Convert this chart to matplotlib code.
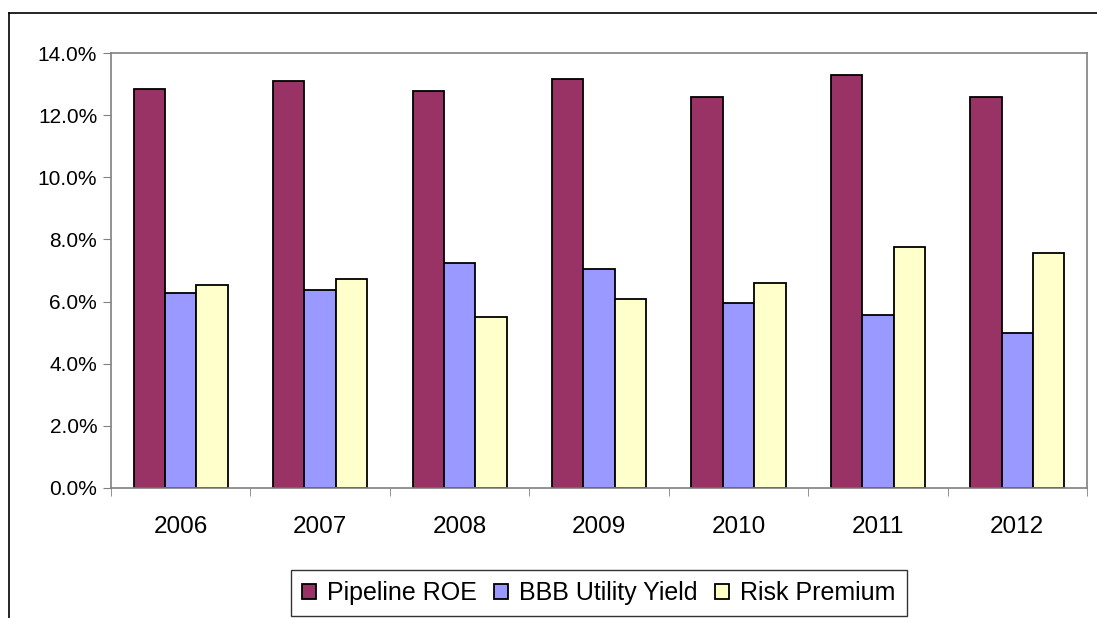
import numpy as np
import matplotlib.pyplot as plt
from matplotlib.lines import Line2D
from matplotlib.ticker import FuncFormatter

plt.rcParams['font.family'] = ['Liberation Sans', 'DejaVu Sans']

years = ['2006', '2007', '2008', '2009', '2010', '2011', '2012']
pipeline_roe = [12.83, 13.10, 12.78, 13.16, 12.58, 13.29, 12.58]
bbb_yield = [6.28, 6.36, 7.25, 7.05, 5.95, 5.57, 5.00]
risk_premium = [6.53, 6.73, 5.50, 6.09, 6.61, 7.76, 7.56]

series = [('Pipeline ROE', pipeline_roe, '#993366'),
          ('BBB Utility Yield', bbb_yield, '#9999FF'),
          ('Risk Premium', risk_premium, '#FFFFCC')]

fig = plt.figure(figsize=(10.97, 6.18), dpi=100)
ax = fig.add_axes([0.1012, 0.2104, 0.8897, 0.7038])

x = np.arange(len(years))
w = 0.225
for i, (name, vals, col) in enumerate(series):
    ax.bar(x + (i - 1) * w, vals, w, color=col, edgecolor='black', linewidth=1.3, label=name)

ax.set_xlim(-0.5, len(years) - 0.5)
ax.set_ylim(0, 14)
ax.set_yticks(np.arange(0, 14.1, 2))
ax.yaxis.set_major_formatter(FuncFormatter(lambda v, p: f'{v:.1f}%'))
ax.set_xticks(x)
ax.set_xticklabels(years)
ax.set_xticks(np.arange(-0.5, len(years)), minor=True)
ax.tick_params(axis='x', which='major', length=0, pad=20, labelsize=17.5)
ax.tick_params(axis='x', which='minor', length=6, direction='out', color='#808080')
ax.tick_params(axis='y', length=6, direction='out', color='#808080', labelsize=15, pad=4)
for s in ax.spines.values():
    s.set_color('#808080')
    s.set_linewidth(1.2)

ax.legend(loc='center', bbox_to_anchor=(0.546, 0.0405), bbox_transform=fig.transFigure,
          ncol=3, fontsize=18, frameon=True, fancybox=False, edgecolor='black',
          handlelength=0.55, handleheight=0.55, handletextpad=0.45, columnspacing=0.7,
          borderpad=0.45, borderaxespad=0)

# outer chart border (only left and top edges are in view)
fig.add_artist(Line2D([9 / 1097, 9 / 1097], [0, 1 - 13 / 618], color='black', lw=1.2))
fig.add_artist(Line2D([9 / 1097, 1], [1 - 13 / 618, 1 - 13 / 618], color='black', lw=1.2))

fig.savefig('out.png', dpi=100)
